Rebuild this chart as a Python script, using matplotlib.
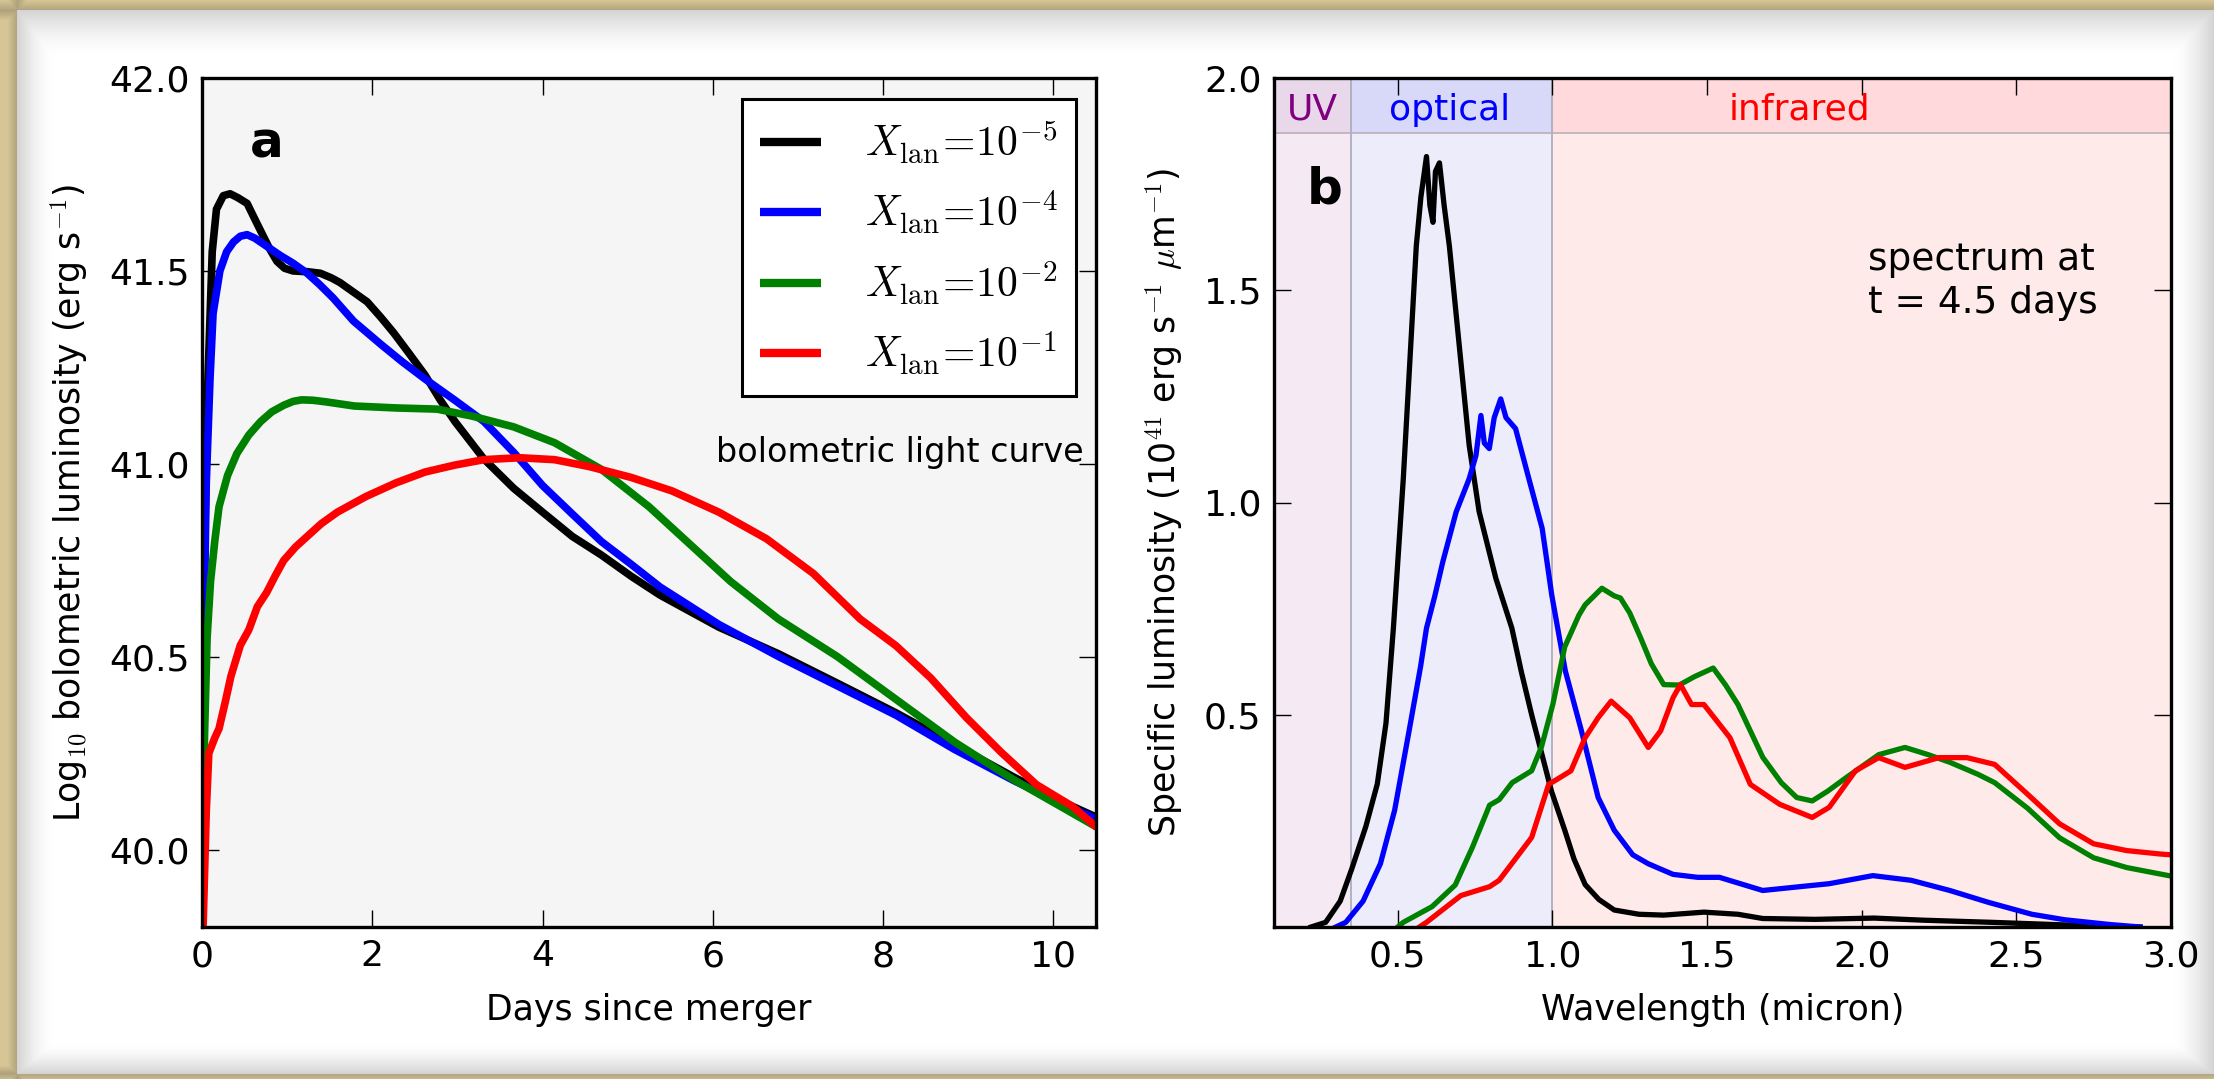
import numpy as np
import matplotlib.pyplot as plt

plt.rcParams['font.family'] = ['DejaVu Sans']
plt.rcParams['mathtext.fontset'] = 'cm'

# (a) bolometric light curves, log10 L vs days
t_k5 = [0.0, 0.04, 0.07, 0.12, 0.17, 0.25, 0.33, 0.42, 0.53, 0.63, 0.72, 0.80, 0.88, 0.97,
        1.07, 1.24, 1.39, 1.52, 1.62, 1.78, 1.94, 2.10, 2.25, 2.42, 2.62, 2.80, 2.97, 3.31,
        3.66, 4.00, 4.35, 4.69, 5.04, 5.38, 6.07, 6.77, 7.46, 8.15, 8.84, 9.53, 10.0, 10.5]
L_k5 = [40.35, 40.90, 41.22, 41.55, 41.66, 41.695, 41.70, 41.69, 41.675, 41.63, 41.59, 41.555,
        41.525, 41.507, 41.50, 41.498, 41.494, 41.482, 41.47, 41.445, 41.42, 41.38, 41.34,
        41.29, 41.23, 41.165, 41.11, 41.013, 40.937, 40.875, 40.812, 40.764, 40.709, 40.66,
        40.577, 40.508, 40.432, 40.355, 40.272, 40.189, 40.135, 40.085]

t_k4 = [0.0, 0.05, 0.094, 0.13, 0.21, 0.29, 0.37, 0.45, 0.53, 0.62, 0.72, 0.82, 0.92, 1.07,
        1.23, 1.38, 1.54, 1.66, 1.78, 1.94, 2.10, 2.35, 2.62, 2.97, 3.31, 3.66, 4.00, 4.35,
        4.69, 5.04, 5.38, 6.07, 6.77, 7.46, 8.15, 8.84, 9.53, 10.0, 10.5]
L_k4 = [40.25, 40.95, 41.22, 41.39, 41.50, 41.55, 41.575, 41.59, 41.594, 41.585, 41.57, 41.555,
        41.54, 41.52, 41.495, 41.465, 41.43, 41.40, 41.37, 41.34, 41.31, 41.265, 41.22, 41.165,
        41.11, 41.03, 40.944, 40.87, 40.799, 40.74, 40.681, 40.584, 40.501, 40.425, 40.349,
        40.26, 40.18, 40.13, 40.08]

t_k2 = [0.0, 0.03, 0.06, 0.10, 0.15, 0.20, 0.30, 0.41, 0.55, 0.69, 0.82, 0.96, 1.07, 1.17,
        1.30, 1.45, 1.79, 2.28, 2.76, 3.17, 3.66, 4.14, 4.69, 5.25, 5.73, 6.21, 6.77, 7.46,
        8.15, 8.84, 9.53, 10.08, 10.5]
L_k2 = [40.0, 40.30, 40.55, 40.695, 40.80, 40.889, 40.97, 41.027, 41.075, 41.11, 41.135, 41.152,
        41.162, 41.166, 41.165, 41.161, 41.150, 41.145, 41.142, 41.124, 41.096, 41.055, 40.986,
        40.889, 40.792, 40.695, 40.598, 40.501, 40.39, 40.279, 40.182, 40.113, 40.06]

t_k1 = [0.0, 0.05, 0.08, 0.15, 0.20, 0.27, 0.34, 0.45, 0.55, 0.65, 0.76, 0.86, 0.96, 1.10,
        1.24, 1.40, 1.59, 1.93, 2.28, 2.62, 2.97, 3.31, 3.73, 4.14, 4.55, 5.04, 5.52, 6.07,
        6.63, 7.18, 7.73, 8.15, 8.56, 8.98, 9.39, 9.80, 10.22, 10.5]
L_k1 = [39.7, 40.10, 40.25, 40.29, 40.314, 40.38, 40.45, 40.53, 40.57, 40.63, 40.667, 40.71,
        40.75, 40.785, 40.813, 40.845, 40.875, 40.916, 40.951, 40.979, 40.997, 41.011, 41.016,
        41.011, 40.993, 40.965, 40.930, 40.875, 40.806, 40.716, 40.598, 40.529, 40.445, 40.342,
        40.252, 40.169, 40.113, 40.06]

# (b) spectra at t = 4.5 days
wl_k5 = [0.22, 0.267, 0.314, 0.351, 0.397, 0.434, 0.462, 0.486, 0.518, 0.539, 0.56, 0.575,
         0.593, 0.604, 0.614, 0.622, 0.635, 0.65, 0.667, 0.699, 0.731, 0.763, 0.817, 0.869,
         0.90, 0.933, 0.965, 0.997, 1.04, 1.07, 1.106, 1.15, 1.20, 1.28, 1.36, 1.49, 1.60,
         1.68, 1.85, 2.04, 2.20, 2.42, 2.69, 2.90]
F_k5 = [0.0, 0.011, 0.061, 0.136, 0.237, 0.337, 0.48, 0.704, 1.056, 1.33, 1.604, 1.72,
        1.815, 1.70, 1.66, 1.78, 1.80, 1.70, 1.604, 1.369, 1.135, 0.979, 0.822, 0.704,
        0.60, 0.50, 0.41, 0.32, 0.228, 0.16, 0.10, 0.065, 0.04, 0.03, 0.028, 0.035, 0.03,
        0.02, 0.018, 0.021, 0.016, 0.011, 0.004, 0.0]

wl_k4 = [0.30, 0.332, 0.388, 0.444, 0.49, 0.537, 0.574, 0.593, 0.62, 0.646, 0.689, 0.731,
         0.753, 0.769, 0.78, 0.796, 0.812, 0.833, 0.85, 0.881, 0.924, 0.967, 0.998, 1.042,
         1.094, 1.148, 1.20, 1.26, 1.31, 1.39, 1.47, 1.54, 1.68, 1.80, 1.895, 2.036, 2.16,
         2.285, 2.41, 2.55, 2.657, 2.80, 2.90]
F_k4 = [0.0, 0.011, 0.061, 0.149, 0.275, 0.463, 0.614, 0.704, 0.78, 0.861, 0.978, 1.056,
        1.111, 1.205, 1.14, 1.127, 1.20, 1.244, 1.20, 1.174, 1.056, 0.939, 0.782, 0.603,
        0.462, 0.305, 0.228, 0.17, 0.149, 0.124, 0.117, 0.117, 0.086, 0.095, 0.102, 0.121,
        0.11, 0.086, 0.058, 0.03, 0.017, 0.006, 0.0]

wl_k2 = [0.50, 0.518, 0.611, 0.686, 0.741, 0.797, 0.828, 0.87, 0.933, 0.965, 1.002, 1.04,
         1.086, 1.106, 1.16, 1.20, 1.22, 1.25, 1.286, 1.32, 1.36, 1.41, 1.46, 1.52, 1.56,
         1.60, 1.68, 1.74, 1.79, 1.84, 1.89, 1.95, 2.055, 2.14, 2.215, 2.285, 2.375, 2.43,
         2.536, 2.64, 2.75, 2.857, 2.964, 3.0]
F_k2 = [0.0, 0.011, 0.048, 0.099, 0.187, 0.287, 0.30, 0.34, 0.368, 0.425, 0.526, 0.66,
        0.735, 0.759, 0.798, 0.78, 0.775, 0.74, 0.68, 0.62, 0.571, 0.57, 0.59, 0.61, 0.57,
        0.524, 0.40, 0.34, 0.305, 0.297, 0.32, 0.352, 0.406, 0.423, 0.406, 0.388, 0.36, 0.34,
        0.28, 0.21, 0.163, 0.14, 0.125, 0.12]

wl_k1 = [0.57, 0.593, 0.704, 0.797, 0.828, 0.88, 0.933, 0.988, 1.02, 1.06, 1.106, 1.148,
         1.19, 1.25, 1.31, 1.35, 1.39, 1.414, 1.45, 1.49, 1.574, 1.64, 1.735, 1.84, 1.895,
         1.98, 2.055, 2.14, 2.25, 2.34, 2.43, 2.536, 2.64, 2.75, 2.857, 2.964, 3.0]
F_k1 = [0.0, 0.011, 0.074, 0.095, 0.11, 0.16, 0.211, 0.336, 0.35, 0.368, 0.446, 0.493,
        0.532, 0.493, 0.423, 0.462, 0.54, 0.571, 0.524, 0.524, 0.446, 0.336, 0.289, 0.258,
        0.282, 0.368, 0.399, 0.376, 0.399, 0.399, 0.383, 0.313, 0.243, 0.196, 0.18, 0.172,
        0.17]

labels = [r'$X_{\rm lan}\!=\!10^{-5}$', r'$X_{\rm lan}\!=\!10^{-4}$',
          r'$X_{\rm lan}\!=\!10^{-2}$', r'$X_{\rm lan}\!=\!10^{-1}$']
colors = ['black', 'blue', 'green', 'red']

W, H = 2214, 1079
fig = plt.figure(figsize=(W / 100, H / 100), dpi=100)

# parchment background with a white card and soft inner shadow
yy, xx = np.mgrid[0:H, 0:W]
card = (xx >= 17) & (yy >= 10) & (yy <= 1073)
sh = np.maximum.reduce([
    np.clip(1 - (xx - 17) / 35.0, 0, 1),
    np.clip(1 - (yy - 10) / 45.0, 0, 1),
    np.clip(1 - (1073 - yy) / 30.0, 0, 1),
    np.clip(1 - (W - 1 - xx) / 40.0, 0, 1),
]) ** 1.6
img = np.empty((H, W, 3))
grey = 1 - 0.17 * sh
for c in range(3):
    img[..., c] = grey
paper = np.array([214, 198, 150]) / 255.0
edge = np.clip(1 - np.minimum(np.abs(xx - 17), np.abs(yy - 10)) / 10.0, 0, 1)
edge = np.maximum(edge, np.clip(1 - np.abs(yy - 1073) / 8.0, 0, 1))
for c in range(3):
    img[..., c] = np.where(card, img[..., c], paper[c] * (1 - 0.18 * edge))
bg = fig.add_axes([0, 0, 1, 1], zorder=-10)
bg.imshow(img, aspect='auto', interpolation='bilinear')
bg.axis('off')

tick_kw = dict(direction='in', top=True, right=True, length=12, width=1,
               labelsize=26, pad=9)

# ---- panel a ----
ax1 = fig.add_axes([202 / W, 1 - 927 / H, 894 / W, 849 / H])
ax1.set_facecolor('#f5f5f5')
for t, L, c, lab in zip([t_k5, t_k4, t_k2, t_k1], [L_k5, L_k4, L_k2, L_k1], colors, labels):
    ax1.plot(t, L, color=c, lw=5.5, label=lab, solid_capstyle='round')
ax1.set_xlim(0, 10.5)
ax1.set_ylim(39.8, 42.0)
ax1.set_xticks([0, 2, 4, 6, 8, 10])
ax1.set_yticks([40.0, 40.5, 41.0, 41.5, 42.0])
ax1.set_yticklabels(['40.0', '40.5', '41.0', '41.5', '42.0'])
ax1.tick_params(**tick_kw)
for s in ax1.spines.values():
    s.set_linewidth(2.4)
ax1.set_xlabel('Days since merger', fontsize=25, labelpad=14)
ax1.set_ylabel(r'Log$_{10}$ bolometric luminosity (erg s$^{-1}$)', fontsize=25, labelpad=14)
ax1.text(0.76, 41.83, 'a', fontsize=36, fontweight='bold', ha='center', va='center')
ax1.text(10.35, 41.03, 'bolometric light curve', fontsize=24, ha='right', va='center')
leg = ax1.legend(loc='upper right', bbox_to_anchor=(0.9776, 0.975), borderaxespad=0,
                 fontsize=30, handlelength=1.45, handletextpad=1.05, labelspacing=0.55,
                 borderpad=0.45, fancybox=False, framealpha=1)
leg.get_frame().set_edgecolor('black')
leg.get_frame().set_linewidth(2.2)
for hl in leg.get_lines():
    hl.set_linewidth(6)
    hl.set_solid_capstyle('butt')

# ---- panel b ----
ax2 = fig.add_axes([1274 / W, 1 - 927 / H, 897 / W, 849 / H])
bands = [(0.1, 0.35, '#f5eaf3', '#e9d8ea', 'UV', 'purple', 0.225),
         (0.35, 1.0, '#ececfb', '#d8d8f8', 'optical', 'blue', 0.667),
         (1.0, 3.0, '#ffeaea', '#ffd9dc', 'infrared', 'red', 1.8)]
strip = 1.87
for x0, x1, body, top, name, tc, xt in bands:
    ax2.axvspan(x0, x1, ymin=0, ymax=strip / 2.0, facecolor=body, edgecolor='none', zorder=0)
    ax2.axvspan(x0, x1, ymin=strip / 2.0, ymax=1, facecolor=top, edgecolor='none', zorder=0)
    ax2.text(xt, 1.925, name, color=tc, fontsize=26, ha='center', va='center')
for xb in [0.35, 1.0]:
    ax2.axvline(xb, color='#a8a8b8', lw=1.2, zorder=0.5)
ax2.axhline(strip, color='#b8b0b8', lw=1.2, zorder=0.5)
for wl, F, c in zip([wl_k5, wl_k4, wl_k2, wl_k1], [F_k5, F_k4, F_k2, F_k1], colors):
    ax2.plot(wl, F, color=c, lw=3.8)
ax2.set_xlim(0.1, 3.0)
ax2.set_ylim(0, 2.0)
ax2.set_xticks([0.5, 1.0, 1.5, 2.0, 2.5, 3.0])
ax2.set_yticks([0.5, 1.0, 1.5, 2.0])
ax2.tick_params(**tick_kw)
for s in ax2.spines.values():
    s.set_linewidth(2.4)
ax2.set_xlabel('Wavelength (micron)', fontsize=25, labelpad=14)
ax2.set_ylabel(r'Specific luminosity (10$^{41}$ erg s$^{-1}$ $\mu$m$^{-1}$)', fontsize=25,
               labelpad=14)
ax2.text(0.263, 1.737, 'b', fontsize=36, fontweight='bold', ha='center', va='center')
ax2.text(2.02, 1.52, 'spectrum at\nt = 4.5 days', fontsize=27, ha='left', va='center',
         linespacing=1.25)

fig.savefig('out.png', dpi=100)
